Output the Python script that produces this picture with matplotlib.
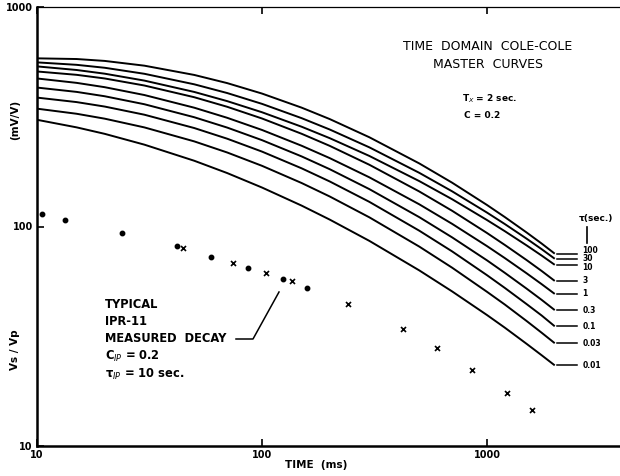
import matplotlib.pyplot as plt

t = [10, 15, 20, 30, 50, 70, 100, 150, 200, 300, 500, 700, 1000, 1200, 1500, 1750, 2000]

# Vs/Vp (mV/V) of each master curve, top to bottom
tau_labels = ["100", "30", "10", "3", "1", "0.3", "0.1", "0.03", "0.01"]
v_100 = [583.6, 579.4, 568, 540.4, 490.3, 450.1, 403.3, 347.9, 308.6, 255.0, 193.8, 158.3, 125.3, 110.4, 93.9, 83.6, 75.2]
v_30 = [559.4, 545.2, 528.6, 496.3, 444.4, 405.6, 362.0, 311.6, 276.6, 229.4, 175.6, 144.6, 115.7, 102.6, 88.0, 78.8, 71.3]
v_10 = [536.3, 516.4, 496.8, 462.1, 410.2, 372.6, 331.5, 284.8, 252.6, 209.6, 161.0, 133.1, 107.0, 95.2, 82.0, 73.7, 66.9]
v_3 = [508.5, 490.9, 472.5, 438.9, 388.1, 351.1, 310.5, 264.5, 233.0, 191.1, 144.4, 117.9, 93.4, 82.4, 70.3, 62.7, 56.5]
v_1 = [472.5, 451.2, 431.2, 397.2, 347.7, 312.8, 275.3, 233.3, 204.9, 167.5, 126.2, 102.8, 81.4, 71.8, 61.2, 54.6, 49.3]
v_03 = [429.5, 410.4, 392.1, 360.6, 314.6, 282.3, 247.4, 208.6, 182.4, 148.0, 110.3, 89.2, 70.1, 61.5, 52.1, 46.3, 41.6]
v_01 = [386.6, 368.8, 351.9, 323.1, 280.9, 251.2, 219.4, 184.1, 160.4, 129.5, 95.7, 77.0, 60.0, 52.5, 44.3, 39.3, 35.1]
v_003 = [344.2, 326.3, 309.9, 282.8, 244.2, 217.4, 189.0, 157.8, 137.0, 110.1, 81.0, 64.9, 50.4, 44.1, 37.1, 32.8, 29.4]
v_001 = [306.3, 282.9, 264.3, 236.0, 199.3, 175.2, 150.5, 124.5, 107.5, 86.0, 63.1, 50.6, 39.5, 34.6, 29.2, 25.9, 23.3]
curves = [v_100, v_30, v_10, v_3, v_1, v_03, v_01, v_003, v_001]

# typical IPR-11 measured decay
dot_t = [10.5, 13.3, 23.9, 41.9, 59.3, 86.6, 124, 158]
dot_v = [113.5, 106.5, 93.8, 81.8, 72.8, 64.9, 57.7, 52.5]
cross_t = [44.6, 74.3, 104, 136, 241, 424, 600, 858, 1228, 1585]
cross_v = [80.2, 68.4, 61.5, 56.5, 44.4, 34.0, 27.9, 22.1, 17.5, 14.6]

W, H = 620, 476


def px(x, y):
    # pixel position -> figure fraction
    return x / W, 1 - y / H


fig = plt.figure(figsize=(6.2, 4.76), dpi=100)
ax = fig.add_axes([37 / W, 30 / H, 583 / W, 439 / H])
ax.set_xscale("log")
ax.set_yscale("log")
ax.set_xlim(10, 3900)
ax.set_ylim(10, 1000)

for v in curves:
    ax.plot(t, v, color="black", lw=1.4, solid_capstyle="butt")
    ax.plot([2050, 2520], [v[-1], v[-1]], color="black", lw=1.1)

# curve labels, the top three are squeezed together as on the original
nudge = [2, 0, -2, 0, 0, 0, 0, 0, 0]
for v, lab, dy in zip(curves, tau_labels, nudge):
    ax.annotate(lab, (2650, v[-1]), xytext=(0, dy), textcoords="offset points",
                fontsize=5.5, fontweight="bold", va="center", ha="left")

ax.plot(dot_t, dot_v, "o", color="black", ms=3.2, ls="none")
ax.plot(cross_t, cross_v, "x", color="black", ms=3.6, mew=1.2, ls="none")

# spines and ticks
ax.spines["right"].set_visible(False)
ax.spines["left"].set_linewidth(1.8)
ax.spines["bottom"].set_linewidth(1.8)
ax.spines["top"].set_linewidth(0.9)
ax.minorticks_off()
ax.set_xticks([10, 100, 1000])
ax.set_xticklabels(["10", "100", "1000"])
ax.set_yticks([10, 100, 1000])
ax.set_yticklabels(["10", "100", "1000"])
ax.tick_params(direction="in", length=5, width=1.2, top=True, right=False,
               labelsize=7, pad=3)
for lab in ax.get_xticklabels() + ax.get_yticklabels():
    lab.set_fontweight("bold")

# axis titles
fig.text(*px(15, 120), "(mV/V)", rotation=90, ha="center", va="center",
         fontsize=7.5, fontweight="bold")
fig.text(*px(15, 350), "Vs / Vp", rotation=90, ha="center", va="center",
         fontsize=7.5, fontweight="bold")
fig.text(*px(316, 465), "TIME  (ms)", ha="center", va="center",
         fontsize=7.5, fontweight="bold")

# header block
fig.text(*px(488, 47), "TIME  DOMAIN  COLE-COLE", ha="center", va="center",
         fontsize=9)
fig.text(*px(488, 64), "MASTER  CURVES", ha="center", va="center", fontsize=9)
fig.text(*px(462, 99), r"T$_X$ = 2 sec.", ha="left", va="center", fontsize=6.5,
         fontweight="bold")
fig.text(*px(464, 116), "C = 0.2", ha="left", va="center", fontsize=6.5,
         fontweight="bold")

# tau legend header
fig.text(*px(579, 219), "τ(sec.)", ha="left", va="center", fontsize=6.5,
         fontweight="bold")
fig.add_artist(plt.Line2D([587 / W, 587 / W], [1 - 227 / H, 1 - 243 / H],
                          color="black", lw=1.2))

# measured decay note
note = ["TYPICAL", "IPR-11", "MEASURED  DECAY", r"C$_{IP}$ = 0.2",
        r"τ$_{IP}$ = 10 sec."]
for i, line in enumerate(note):
    fig.text(*px(105, 304 + 17.5 * i), line, ha="left", va="center",
             fontsize=8.3, fontweight="bold")
fig.add_artist(plt.Line2D([236 / W, 253 / W, 279 / W],
                          [1 - 339 / H, 1 - 339 / H, 1 - 292 / H],
                          color="black", lw=1.1))

fig.savefig("out.png", dpi=100)
